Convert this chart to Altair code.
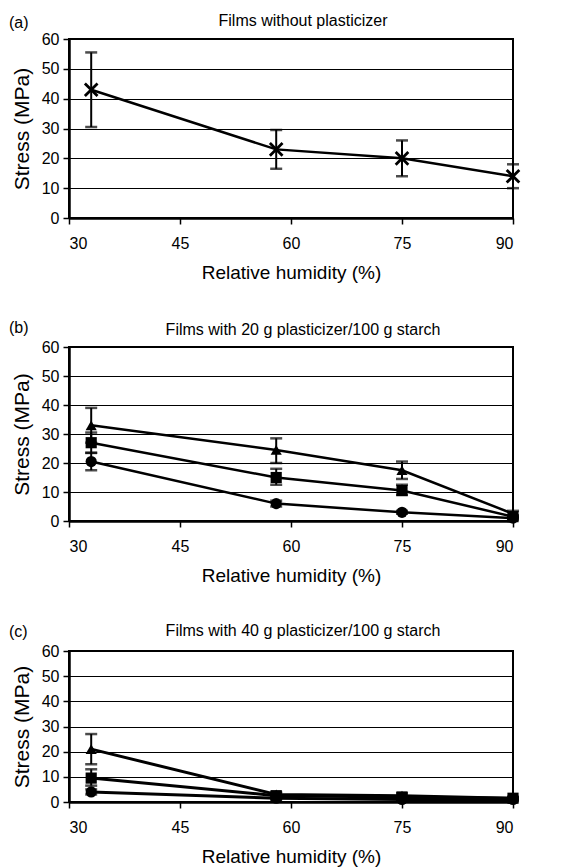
import altair as alt
import pandas as pd

# ---------------- data ----------------
x_rh = [33, 58, 75, 90]
x_ticks = [30, 45, 60, 75, 90]
y_ticks = [0, 10, 20, 30, 40, 50, 60]

panel_labels = ["(a)", "(b)", "(c)"]
panel_titles = [
    "Films without plasticizer",
    "Films with 20 g plasticizer/100 g starch",
    "Films with 40 g plasticizer/100 g starch",
]
x_title = "Relative humidity (%)"
y_title = "Stress (MPa)"

# panel (a): no plasticizer (x markers)
a_x_y = [43, 23, 20, 14]
a_x_lo = [30.5, 16.5, 14, 10]
a_x_hi = [55.5, 29.5, 26, 18]

# panel (b): 20 g plasticizer
b_tri_y = [33, 24.5, 17.5, 2.5]
b_tri_lo = [27, 20, 14.5, 1.5]
b_tri_hi = [39, 28.5, 20.5, 3.5]
b_sq_y = [27, 15, 10.5, 1.5]
b_sq_lo = [23.5, 12.5, 9, 1]
b_sq_hi = [30.5, 18, 12.5, 2]
b_ci_y = [20.5, 6, 3, 1]
b_ci_lo = [17.5, 5, 2.5, 0.5]
b_ci_hi = [23.5, 7, 3.5, 1.5]

# panel (c): 40 g plasticizer
c_tri_y = [21, 3, 2.5, 1.5]
c_tri_lo = [15, 2, 1.5, 1]
c_tri_hi = [27, 4, 3.5, 2]
c_sq_y = [9.5, 2.5, 2, 1.5]
c_sq_lo = [6.5, 1.5, 1.5, 1]
c_sq_hi = [13, 3.5, 2.5, 2]
c_ci_y = [4, 1.5, 1, 1]
c_ci_lo = [3, 1, 0.5, 0.5]
c_ci_hi = [5, 2, 1.5, 1.5]

series_names = ["triangle", "square", "circle"]
shape_range = ["triangle-up", "square", "circle"]
x_path = "M-1,-1L1,1M-1,1L1,-1"

PLOT_W = 444


def frame(series):
    rows = []
    for name, ys, los, his in series:
        for xv, yv, lo, hi in zip(x_rh, ys, los, his):
            rows.append({"series": name, "rh": xv, "y": yv, "lo": lo, "hi": hi})
    return pd.DataFrame(rows)


df_a = frame([("cross", a_x_y, a_x_lo, a_x_hi)])
df_b = frame([
    ("triangle", b_tri_y, b_tri_lo, b_tri_hi),
    ("square", b_sq_y, b_sq_lo, b_sq_hi),
    ("circle", b_ci_y, b_ci_lo, b_ci_hi),
])
df_c = frame([
    ("triangle", c_tri_y, c_tri_lo, c_tri_hi),
    ("square", c_sq_y, c_sq_lo, c_sq_hi),
    ("circle", c_ci_y, c_ci_lo, c_ci_hi),
])


def X():
    return alt.X(
        "rh:Q",
        scale=alt.Scale(domain=[30, 90], nice=False, zero=False),
        axis=alt.Axis(values=x_ticks, title=x_title, grid=False),
    )


def Y(field):
    return alt.Y(
        f"{field}:Q",
        scale=alt.Scale(domain=[0, 60], nice=False),
        axis=alt.Axis(values=y_ticks, title=y_title, grid=True),
    )


def panel(df, idx, height, label_y, title_y, cross=False, lw=2.5):
    base = alt.Chart(df)
    line = base.mark_line(color="black", strokeWidth=lw).encode(
        x=X(), y=Y("y"), detail="series:N"
    )
    rule = base.mark_rule(color="black", strokeWidth=2).encode(
        x=X(), y=Y("lo"), y2="hi:Q"
    )
    cap_lo = base.mark_tick(color="black", orient="horizontal", size=12, thickness=2.5).encode(
        x=X(), y=Y("lo")
    )
    cap_hi = base.mark_tick(color="black", orient="horizontal", size=12, thickness=2.5).encode(
        x=X(), y=Y("hi")
    )
    if cross:
        pts = base.mark_point(
            shape=x_path, filled=False, color="black", strokeWidth=2.8, size=160, opacity=1
        ).encode(x=X(), y=Y("y"))
    else:
        pts = base.mark_point(filled=True, color="black", size=125, opacity=1).encode(
            x=X(),
            y=Y("y"),
            shape=alt.Shape(
                "series:N",
                scale=alt.Scale(domain=series_names, range=shape_range),
                legend=None,
            ),
        )
    txt = pd.DataFrame({"t": [panel_labels[idx]], "title": [panel_titles[idx]]})
    lab = alt.Chart(txt).mark_text(
        align="left", baseline="alphabetic", fontSize=16, font="Liberation Sans", color="black"
    ).encode(text="t:N", x=alt.value(-60), y=alt.value(label_y))
    ttl = alt.Chart(txt).mark_text(
        align="center", baseline="alphabetic", fontSize=16, font="Liberation Sans", color="black"
    ).encode(text="title:N", x=alt.value(PLOT_W / 2 + 12), y=alt.value(title_y))
    return alt.layer(line, rule, cap_lo, cap_hi, pts, lab, ttl).properties(
        width=PLOT_W,
        height=height,
    )


chart = alt.vconcat(
    panel(df_a, 0, 179, -11, -13, cross=True),
    panel(df_b, 1, 174, -14, -12),
    panel(df_c, 2, 151, -14, -15, lw=3),
    spacing=36,
).properties(
    padding={"left": 0, "top": 4, "right": 5, "bottom": 0},
    background="white",
).configure_view(
    stroke="black", strokeWidth=2
).configure_axis(
    labelFont="Liberation Sans", titleFont="Liberation Sans",
    labelFontSize=16, labelColor="black", titleColor="black",
    titleFontWeight="normal",
    domainColor="black", domainWidth=2.5,
    tickColor="black", tickWidth=1.5, tickSize=6,
    gridColor="black", gridWidth=1, gridOpacity=1,
).configure_axisX(
    titleFontSize=19, labelPadding=11, titlePadding=12,
).configure_axisY(
    titleFontSize=21, labelPadding=4, titlePadding=9,
)

chart.save("out.html", embed_options={"renderer": "svg", "actions": False})
